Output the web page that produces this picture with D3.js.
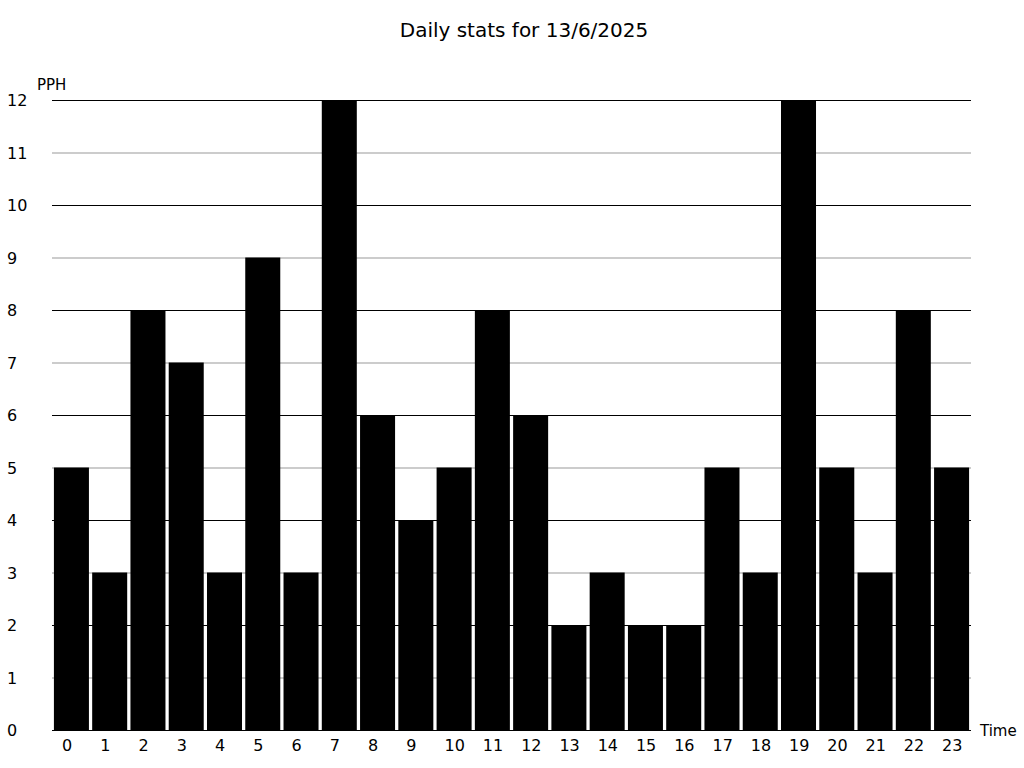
<!DOCTYPE html>
<html>
<head>
<meta charset="utf-8">
<script src="https://cdn.jsdelivr.net/npm/d3@7"></script>
<style>
html,body{margin:0;padding:0;background:#fff;}
text{font-family:"DejaVu Sans",sans-serif;fill:#000;}
</style>
</head>
<body>
<svg id="chart" width="1024" height="768"></svg>
<script>
const hours = ["0","1","2","3","4","5","6","7","8","9","10","11","12","13","14","15","16","17","18","19","20","21","22","23"];
const pph = [5,3,8,7,3,9,3,12,6,4,5,8,6,2,3,2,2,5,3,12,5,3,8,5];
const yTicks = [0,1,2,3,4,5,6,7,8,9,10,11,12];
const title = "Daily stats for 13/6/2025";

const svg = d3.select("#chart");
const x = d3.scaleBand().domain(hours).range([52,971]).paddingInner(0.085).paddingOuter(0.05);
const y = d3.scaleLinear().domain([0,12]).range([730,100]);

// gridlines
svg.append("g").selectAll("line").data(yTicks).join("line")
  .attr("x1",52).attr("x2",971)
  .attr("y1",d=>y(d)+0.5).attr("y2",d=>y(d)+0.5)
  .attr("stroke",d=>d%2===0?"#000":"#bbb")
  .attr("stroke-width",d=>d%2===0?1:1.5);

// bars
svg.append("g").selectAll("rect").data(pph).join("rect")
  .attr("x",(d,i)=>x(hours[i]))
  .attr("width",x.bandwidth())
  .attr("y",d=>y(d))
  .attr("height",d=>y(0)-y(d))
  .attr("fill","#000");

// y labels
svg.append("g").selectAll("text").data(yTicks).join("text")
  .attr("x",7).attr("y",d=>y(d)+6)
  .attr("font-size",16)
  .text(d=>d);

// x labels
svg.append("g").selectAll("text").data(hours).join("text")
  .attr("x",d=>x(d)+8).attr("y",751)
  .attr("font-size",16)
  .text(d=>d);

svg.append("text").attr("x",524).attr("y",37).attr("text-anchor","middle").attr("font-size",20).text(title);
svg.append("text").attr("x",37).attr("y",90).attr("font-size",15).text("PPH");
svg.append("text").attr("x",980).attr("y",736).attr("font-size",15).text("Time");
</script>
</body>
</html>
